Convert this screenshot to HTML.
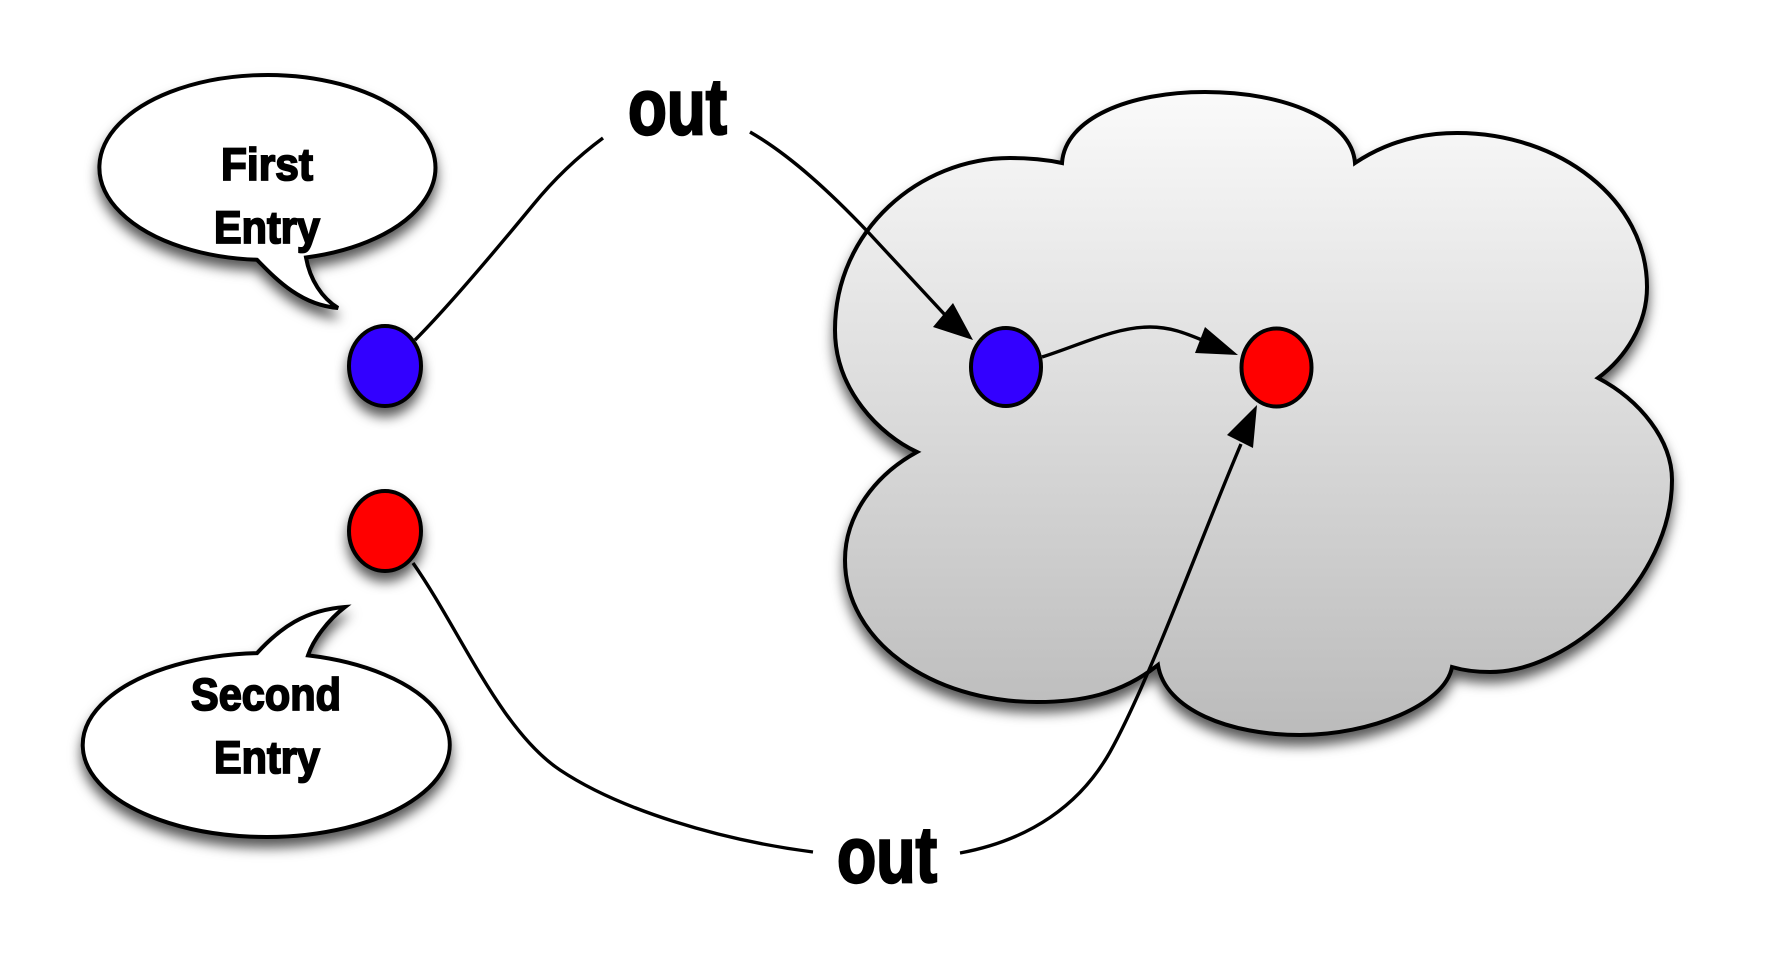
<!DOCTYPE html>
<html>
<head>
<meta charset="utf-8">
<style>
html,body{margin:0;padding:0;background:#fff;}
body{width:1791px;height:962px;overflow:hidden;}
svg{display:block;}
text{font-family:"Liberation Sans",Arial,sans-serif;font-weight:bold;fill:#000;}
</style>
</head>
<body>
<svg width="1791" height="962" viewBox="0 0 1791 962" xmlns="http://www.w3.org/2000/svg">
<defs>
  <linearGradient id="cg" x1="0" y1="92" x2="0" y2="736" gradientUnits="userSpaceOnUse">
    <stop offset="0" stop-color="#fafafa"/>
    <stop offset="1" stop-color="#bbbbbb"/>
  </linearGradient>
  <filter id="sh" x="-20%" y="-20%" width="140%" height="150%">
    <feDropShadow dx="0" dy="9" stdDeviation="6" flood-color="#000" flood-opacity="0.65"/>
  </filter>
</defs>

<rect width="1791" height="962" fill="#fff"/>

<!-- Cloud -->
<path filter="url(#sh)" fill="url(#cg)" stroke="#000" stroke-width="4" stroke-linejoin="miter"
 d="M1062,163
    C1065,118 1130,92 1205,92
    C1285,92 1352,120 1355,163
    C1385,143 1420,133 1457,133
    C1560,133 1647,200 1647,287
    C1647,325 1625,358 1598,378
    C1640,400 1672,440 1672,480
    C1672,580 1570,672 1490,672
    C1475,672 1462,670 1452,667
    C1445,705 1370,735 1300,735
    C1230,735 1165,710 1158,665
    C1120,695 1080,702 1037,702
    C930,702 845,640 845,560
    C845,515 875,475 917,452
    C880,435 835,390 835,330
    C835,230 920,158 1010,158
    C1030,158 1048,160 1062,163 Z"/>

<!-- First Entry bubble -->
<path filter="url(#sh)" fill="#fff" stroke="#000" stroke-width="4"
 d="M306,257.5 A168 92.5 0 1 0 257,259.8 C275,278 300,305 338,308 C322,298 310,280 306,257.5 Z"/>
<text x="221" y="180" font-size="45" textLength="92" lengthAdjust="spacingAndGlyphs" stroke="#000" stroke-width="1.8">First</text>
<text x="214" y="243" font-size="45" textLength="106" lengthAdjust="spacingAndGlyphs" stroke="#000" stroke-width="1.8">Entry</text>

<!-- Second Entry bubble -->
<path filter="url(#sh)" fill="#fff" stroke="#000" stroke-width="4"
 d="M257,653.1 C280,628 305,610 345,607 C328,620 313,640 308,655.4 A183.5 92 0 1 1 257,653.1 Z"/>
<text x="191" y="710" font-size="45" textLength="150" lengthAdjust="spacingAndGlyphs" stroke="#000" stroke-width="1.8">Second</text>
<text x="214" y="773" font-size="45" textLength="106" lengthAdjust="spacingAndGlyphs" stroke="#000" stroke-width="1.8">Entry</text>

<!-- Left nodes -->
<ellipse filter="url(#sh)" cx="385" cy="366" rx="36" ry="40" fill="#3300ff" stroke="#000" stroke-width="4"/>
<ellipse filter="url(#sh)" cx="385" cy="531" rx="36" ry="40" fill="#ff0000" stroke="#000" stroke-width="4"/>

<!-- Inner nodes -->
<ellipse cx="1006" cy="367" rx="35" ry="39" fill="#3300ff" stroke="#000" stroke-width="4"/>
<ellipse cx="1276.5" cy="367.5" rx="35" ry="39" fill="#ff0000" stroke="#000" stroke-width="4"/>

<!-- Connectors -->
<g fill="none" stroke="#000" stroke-width="3.4">
  <path d="M415,340 C450,305 500,245 533,205 C555,178 580,155 603,138"/>
  <path d="M750,132 C790,155 830,192 868,232 L946,316"/>
  <path d="M1042,357 C1080,345 1115,327 1150,327 C1170,327 1185,333 1202,340"/>
  <path d="M413,563 C460,630 500,730 560,770 C620,810 720,840 813,852"/>
  <path d="M960,853 C1030,840 1080,805 1110,752 C1150,680 1200,540 1241,444"/>
</g>

<!-- Arrowheads -->
<polygon points="973,340 933,327 953,303" fill="#000"/>
<polygon points="1238,355 1205,327 1195,353" fill="#000"/>
<polygon points="1257,405 1227,435 1253,448" fill="#000"/>

<!-- out labels -->
<text x="628" y="134" font-size="79" textLength="99" lengthAdjust="spacingAndGlyphs" stroke="#000" stroke-width="2.4">out</text>
<text x="837" y="882" font-size="79" textLength="100" lengthAdjust="spacingAndGlyphs" stroke="#000" stroke-width="2.4">out</text>
</svg>
</body>
</html>
